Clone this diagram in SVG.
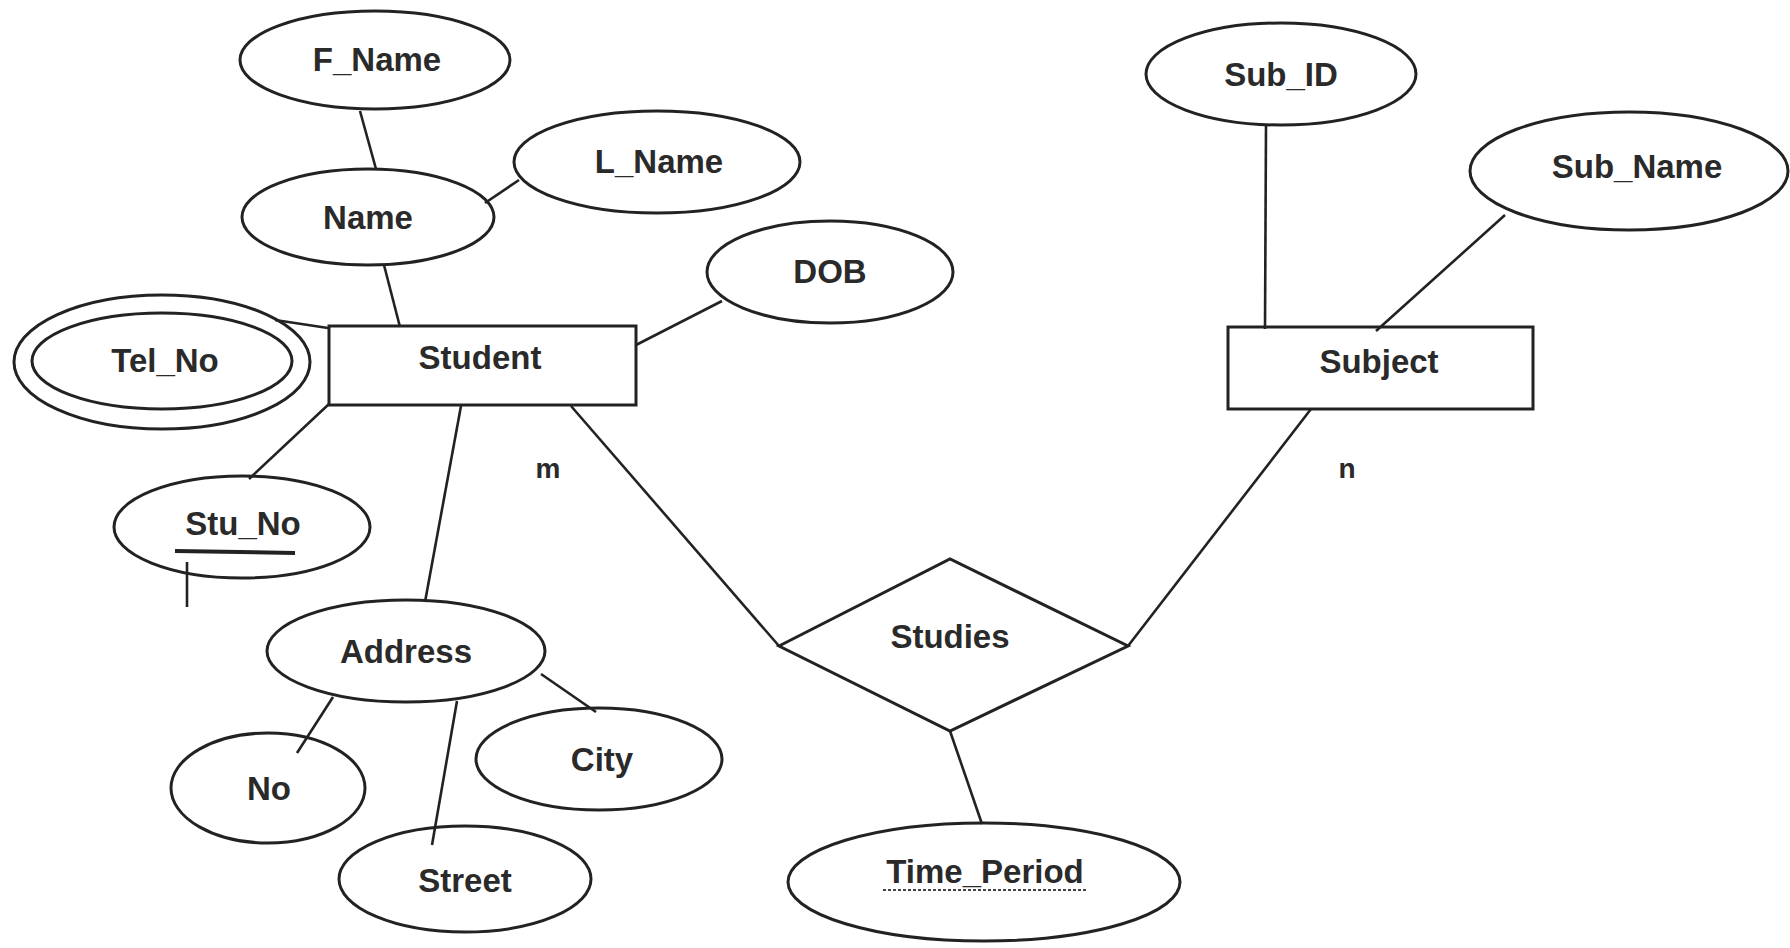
<svg xmlns="http://www.w3.org/2000/svg" width="1790" height="948" viewBox="0 0 1790 948">
<style>
  .shape { fill: none; stroke: #222; stroke-width: 3; }
  .conn line { stroke: #222; stroke-width: 2.6; }
  text { font-family: "Liberation Sans", Arial, sans-serif; font-size: 33px; font-weight: bold; fill: #2a2a2a; text-anchor: middle; }
  .card { font-size: 28px; }
</style>
<rect width="1790" height="948" fill="#fff"/>
<g id="connectors" class="conn">
  <line x1="360" y1="111" x2="376" y2="169"/>
  <line x1="485" y1="203" x2="519" y2="180"/>
  <line x1="384" y1="265" x2="400" y2="327"/>
  <line x1="275" y1="320" x2="328" y2="328"/>
  <line x1="722" y1="301" x2="636" y2="345"/>
  <line x1="329" y1="404" x2="249" y2="479"/>
  <line x1="461" y1="406" x2="425" y2="602"/>
  <line x1="571" y1="406" x2="779" y2="646"/>
  <line x1="1311" y1="409" x2="1128" y2="646"/>
  <line x1="1266" y1="125" x2="1265" y2="329"/>
  <line x1="1505" y1="215" x2="1376" y2="331"/>
  <line x1="333" y1="697" x2="297" y2="753"/>
  <line x1="457" y1="701" x2="432" y2="845"/>
  <line x1="541" y1="674" x2="596" y2="712"/>
  <line x1="950" y1="731" x2="982" y2="824"/>
  <line x1="187" y1="562" x2="187" y2="607"/>
</g>
<g id="F_Name"><ellipse class="shape" cx="375" cy="60" rx="135" ry="49"/><text x="377" y="71">F_Name</text></g>
<g id="Name"><ellipse class="shape" cx="368" cy="217" rx="126" ry="48"/><text x="368" y="229">Name</text></g>
<g id="L_Name"><ellipse class="shape" cx="657" cy="162" rx="143" ry="51"/><text x="659" y="173">L_Name</text></g>
<g id="DOB"><ellipse class="shape" cx="830" cy="272" rx="123" ry="51"/><text x="830" y="283">DOB</text></g>
<g id="Tel_No"><ellipse class="shape" cx="162" cy="362" rx="148" ry="67"/><ellipse class="shape" cx="162" cy="361" rx="130" ry="48"/><text x="165" y="372">Tel_No</text></g>
<g id="Student"><rect class="shape" x="329" y="326" width="307" height="79"/><text x="480" y="369">Student</text></g>
<g id="Stu_No"><ellipse class="shape" cx="242" cy="527" rx="128" ry="51"/><text x="243" y="535">Stu_No</text><line x1="175" y1="551" x2="295" y2="553" stroke="#222" stroke-width="4"/></g>
<g id="Address"><ellipse class="shape" cx="406" cy="651" rx="139" ry="51"/><text x="406" y="663">Address</text></g>
<g id="No"><ellipse class="shape" cx="268" cy="788" rx="97" ry="55"/><text x="269" y="800">No</text></g>
<g id="City"><ellipse class="shape" cx="599" cy="759" rx="123" ry="51"/><text x="602" y="771">City</text></g>
<g id="Street"><ellipse class="shape" cx="465" cy="879" rx="126" ry="53"/><text x="465" y="892">Street</text></g>
<g id="Studies"><polygon class="shape" points="779,646 950,559 1128,646 950,731"/><text x="950" y="648">Studies</text></g>
<g id="Time_Period"><ellipse class="shape" cx="984" cy="882" rx="196" ry="59"/><text x="985" y="883">Time_Period</text><line x1="883" y1="890" x2="1088" y2="890" stroke="#444" stroke-width="2" stroke-dasharray="3 2"/></g>
<g id="Subject"><rect class="shape" x="1228" y="327" width="305" height="82"/><text x="1379" y="373">Subject</text></g>
<g id="Sub_ID"><ellipse class="shape" cx="1281" cy="74" rx="135" ry="51"/><text x="1281" y="86">Sub_ID</text></g>
<g id="Sub_Name"><ellipse class="shape" cx="1629" cy="171" rx="159" ry="59"/><text x="1637" y="178">Sub_Name</text></g>
<g id="label_m"><text class="card" x="548" y="478">m</text></g>
<g id="label_n"><text class="card" x="1347" y="478">n</text></g>
</svg>
